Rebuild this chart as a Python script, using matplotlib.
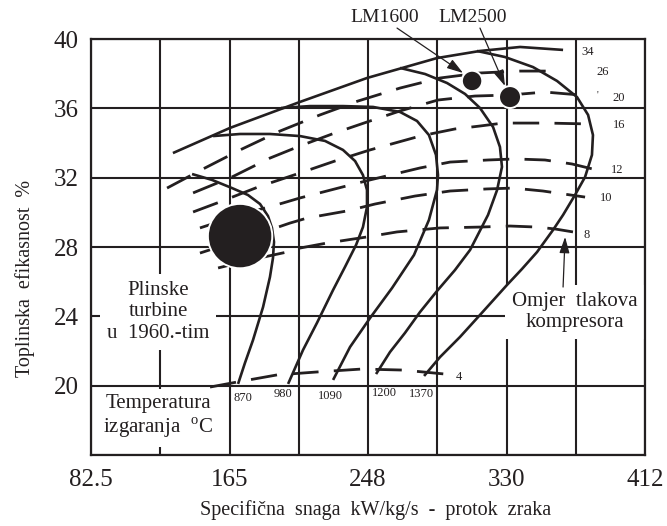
import matplotlib
matplotlib.use("Agg")
import matplotlib.pyplot as plt

plt.rcParams['font.family'] = ['Liberation Serif', 'DejaVu Serif']
plt.rcParams['mathtext.fontset'] = 'custom'
plt.rcParams['mathtext.rm'] = 'Liberation Serif'
plt.rcParams['lines.scale_dashes'] = False

INK = '#231f20'

# ---- axes ticks ----
x_ticks = [82.5, 123.75, 165, 206.25, 247.5, 288.75, 330, 371.25, 412.5]
x_tick_labels = ['82.5', '', '165', '', '248', '', '330', '', '412']
y_ticks = [16, 20, 24, 28, 32, 36, 40]
y_tick_labels = ['', '20', '24', '28', '32', '36', '40']

# ---- combustion temperature curves (solid) ----
temp_labels = ['870', '980', '1090', '1200', '1370']
t870_x = [142.7, 154.6, 166.5, 176.0, 183.2, 187.9, 190.3, 191.5, 190.9, 189.1, 185.0, 179.0, 174.2, 170.1]
t870_y = [32.21, 31.87, 31.40, 31.00, 30.48, 29.79, 29.10, 28.29, 27.37, 26.27, 24.54, 22.63, 21.31, 20.10]
t980_x = [155.2, 171.3, 189.1, 207.0, 221.9, 232.6, 239.8, 244.5, 246.9, 246.9, 244.5, 240.4, 233.8, 226.7, 217.1, 208.8, 199.9]
t980_y = [34.40, 34.52, 34.52, 34.40, 34.12, 33.60, 32.96, 32.15, 31.29, 30.31, 29.15, 28.12, 26.85, 25.52, 23.62, 22.06, 20.10]
t1090_x = [195.7, 213.0, 232.6, 250.5, 266.6, 276.7, 283.8, 288.0, 289.2, 288.6, 283.8, 274.9, 261.8, 248.7, 236.8, 226.7]
t1090_y = [36.02, 36.13, 36.13, 36.08, 35.79, 35.27, 34.46, 33.31, 32.15, 31.29, 29.56, 27.54, 25.63, 23.90, 22.23, 20.33]
t1200_x = [266.6, 281.5, 294.6, 305.3, 314.2, 322.0, 326.1, 327.3, 324.4, 319.0, 308.3, 299.3, 288.6, 278.5, 269.5, 260.6, 252.3]
t1200_y = [38.33, 37.98, 37.46, 36.83, 36.02, 34.92, 33.77, 32.62, 31.29, 29.85, 27.83, 26.67, 25.46, 24.25, 23.04, 21.94, 20.67]
t1370_x = [312.4, 329.1, 345.8, 360.1, 372.0, 378.6, 381.5, 380.9, 376.8, 370.8, 363.7, 357.7, 348.2, 339.2, 330.3, 314.2, 302.3, 290.4, 280.9]
t1370_y = [39.31, 38.96, 38.38, 37.58, 36.65, 35.62, 34.46, 33.31, 32.04, 31.00, 29.85, 28.98, 27.71, 26.73, 25.81, 24.08, 22.81, 21.65, 20.56]

# ---- compressor pressure ratio lines ----
pr34_x = [131.3, 165.3, 207.0, 246.9, 288.6, 314.2, 338.1, 363.7]
pr34_y = [33.42, 34.87, 36.37, 37.75, 38.90, 39.31, 39.54, 39.37]
pr26_x = [127.8, 149.2, 172.4, 195.1, 218.9, 241.5, 266.6, 290.4, 314.2, 338.1, 357.1]
pr26_y = [31.40, 32.50, 33.65, 34.69, 35.62, 36.42, 37.17, 37.75, 38.04, 38.15, 38.15]
pr20_x = [143.3, 166.5, 189.1, 207.0, 227.8, 248.7, 266.6, 289.2, 311.2, 332.1, 352.9, 373.8]
pr20_y = [31.12, 32.04, 33.13, 33.83, 34.58, 35.27, 35.85, 36.48, 36.71, 36.77, 36.94, 36.77]
pr16_x = [143.3, 159.3, 182.0, 207.0, 227.8, 248.7, 278.5, 299.3, 314.2, 327.9, 354.1, 378.6]
pr16_y = [30.02, 30.60, 31.46, 32.27, 32.96, 33.60, 34.40, 34.81, 34.98, 35.15, 35.15, 35.10]
pr12_x = [147.4, 171.3, 196.9, 207.0, 227.8, 248.7, 278.5, 296.4, 319.0, 335.1, 352.9, 369.0, 383.9]
pr12_y = [29.10, 29.85, 30.54, 30.83, 31.35, 31.87, 32.56, 32.90, 33.02, 33.08, 33.02, 32.79, 32.44]
pr10_x = [147.4, 171.3, 201.0, 211.2, 235.0, 251.7, 275.5, 296.4, 318.4, 333.9, 351.7, 376.8]
pr10_y = [27.65, 28.40, 29.38, 29.67, 30.08, 30.48, 30.94, 31.23, 31.35, 31.40, 31.23, 30.88]
pr8_x = [158.2, 177.2, 199.3, 207.0, 223.1, 246.9, 264.8, 290.4, 314.2, 332.1, 348.2, 358.9, 369.6]
pr8_y = [26.79, 27.25, 27.71, 27.94, 28.23, 28.58, 28.87, 29.10, 29.15, 29.21, 29.15, 29.04, 28.87]
pr4_x = [153.4, 169.5, 193.3, 217.1, 243.9, 268.4, 293.4]
pr4_y = [19.92, 20.21, 20.62, 20.79, 20.96, 20.90, 20.67]

# ---- engines ----
engine_names = ['1960s', 'LM1600', 'LM2500']
engine_x = [171.3, 309.5, 332.1]
engine_y = [28.63, 37.58, 36.65]
engine_size = [2150, 215, 250]

fig = plt.figure(figsize=(6.67, 5.26), dpi=100)
ax = fig.add_axes([91 / 667, 1 - 455 / 526, 554 / 667, 416 / 526])
ax.set_xlim(82.5, 412.5)
ax.set_ylim(16, 40)

ax.set_xticks(x_ticks)
ax.set_xticklabels(x_tick_labels)
ax.set_yticks(y_ticks)
ax.set_yticklabels(y_tick_labels)
ax.tick_params(length=0, labelsize=18, colors=INK)
ax.tick_params(axis='x', pad=10)
ax.tick_params(axis='y', pad=9)
ax.set_axisbelow(True)
ax.grid(True, color=INK, lw=1.5, zorder=0)
for sp in ax.spines.values():
    sp.set_color(INK)
    sp.set_linewidth(1.6)

solid_kw = dict(color=INK, lw=1.9, solid_capstyle='butt', solid_joinstyle='round', zorder=3)
dash_kw = dict(color=INK, lw=2.0, linestyle=(0, (19, 11)), dash_capstyle='butt', zorder=3)

# temperature curves
for xs, ys in [(t870_x, t870_y), (t980_x, t980_y), (t1090_x, t1090_y),
               (t1200_x, t1200_y), (t1370_x, t1370_y)]:
    ax.plot(xs, ys, **solid_kw)

# pressure ratio 34 (envelope) is solid, the rest dashed
ax.plot(pr34_x, pr34_y, **solid_kw)
for xs, ys in [(pr26_x, pr26_y), (pr20_x, pr20_y), (pr16_x, pr16_y), (pr12_x, pr12_y),
               (pr10_x, pr10_y), (pr8_x, pr8_y), (pr4_x, pr4_y)]:
    ax.plot(xs, ys, **dash_kw)

# engine markers
ax.scatter(engine_x, engine_y, s=engine_size, color=INK,
           edgecolors='white', linewidths=1.4, zorder=5)

small = dict(fontsize=9, color=INK, ha='center', va='center', zorder=6)
# pressure ratio labels
for txt, (x, y) in zip(['34', '26', '20', '16', '12', '10', '8', '4'],
                       [(378.6, 39.25), (387.5, 38.10), (397.0, 36.60), (397.0, 35.04),
                        (395.8, 32.44), (389.3, 30.83), (378.0, 28.69), (301.7, 20.50)]):
    ax.text(x, y, txt, **small)
ax.text(383.9, 36.75, "'", fontsize=7, color=INK, ha='center', va='center')

# temperature labels
for txt, (x, y) in zip(temp_labels, [(173.0, 19.29), (196.9, 19.52), (224.9, 19.40),
                                     (257.0, 19.58), (279.1, 19.52)]):
    ax.text(x, y, txt, **small)

box = dict(boxstyle='square,pad=0.35', fc='white', ec='none')
ax.text(122.4, 24.25, 'Plinske\nturbine\nu  1960.-tim', fontsize=15, color=INK,
        ha='center', va='center', multialignment='center', linespacing=1.15,
        bbox=box, zorder=2)
ax.text(122.4, 18.19, 'Temperatura\nizgaranja  $^{\\mathrm{o}}$C', fontsize=15, color=INK,
        ha='center', va='center', multialignment='center', linespacing=1.15,
        bbox=box, zorder=2)
ax.text(370.8, 24.25, 'Omjer  tlakova\nkompresora', fontsize=15, color=INK,
        ha='center', va='center', multialignment='center', linespacing=1.15,
        bbox=box, zorder=2)

arrow = dict(arrowstyle='-|>,head_length=0.7,head_width=0.22', color=INK, lw=0.9,
             shrinkA=0, shrinkB=0, mutation_scale=14)
ax.annotate('', xy=(304.1, 38.04), xytext=(264.8, 40.63), arrowprops=arrow,
            annotation_clip=False, zorder=6)
ax.annotate('', xy=(329.1, 37.29), xytext=(314.2, 40.63), arrowprops=arrow,
            annotation_clip=False, zorder=6)
ax.annotate('', xy=(364.9, 28.58), xytext=(363.7, 25.69), arrowprops=arrow, zorder=6)

fig.text(385 / 667, 1 - 17 / 526, 'LM1600', fontsize=14, color=INK, ha='center', va='center')
fig.text(473 / 667, 1 - 17 / 526, 'LM2500', fontsize=14, color=INK, ha='center', va='center')

fig.text(376 / 667, 1 - 510 / 526, 'Specifična  snaga  kW/kg/s  -  protok  zraka',
         fontsize=14.5, color=INK, ha='center', va='center')
fig.text(25 / 667, 1 - 278 / 526, 'Toplinska  efikasnost  %', fontsize=14.5, color=INK,
         ha='center', va='center', rotation=90)

fig.savefig('out.png', dpi=100)
